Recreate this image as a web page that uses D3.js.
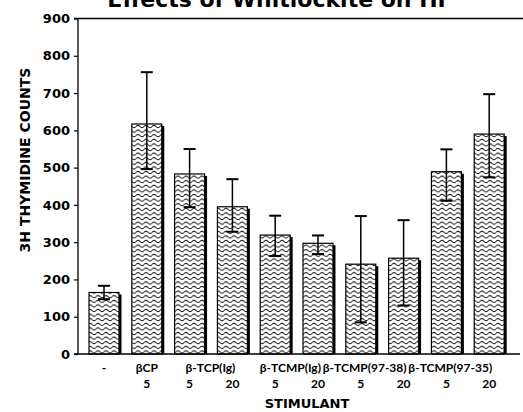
<!DOCTYPE html>
<html>
<head>
    <meta charset="utf-8" />
    <title>Effects of Whitlockite on HF</title>
    <script src="https://d3js.org/d3.v7.min.js"></script>
    <style>
        body { margin: 0; background: #fff; }
        svg { display: block; }
    </style>
</head>
<body>
    <div id="chart"></div>
    <script>
        // bar values
        const doses = ["", "5", "5", "20", "5", "20", "5", "20", "5", "20"];
        const means = [165, 617, 483, 395, 319, 297, 241, 257, 489, 590];
        const upper = [183, 756, 550, 469, 371, 318, 370, 359, 549, 697];
        const lower = [147, 496, 394, 328, 263, 268, 85, 130, 411, 474];

        // stimulant groups (first and last bar of each)
        const groupNames = ["-", "\u03b2CP", "\u03b2-TCP(Ig)", "\u03b2-TCMP(Ig)", "\u03b2-TCMP(97-38)", "\u03b2-TCMP(97-35)"];
        const groupFirst = [0, 1, 2, 4, 6, 8];
        const groupLast = [0, 1, 3, 5, 7, 9];

        const yTicks = [0, 100, 200, 300, 400, 500, 600, 700, 800, 900];

        const w = 523, h = 412;
        const font = "'DejaVu Sans', sans-serif";
        const narrow = "Lato, 'DejaVu Sans', sans-serif";

        const svg = d3.select('#chart').append('svg')
            .attr('width', w)
            .attr('height', h);

        // wavy fill like the original hatching
        const pat = svg.append('defs').append('pattern')
            .attr('id', 'wave')
            .attr('patternUnits', 'userSpaceOnUse')
            .attr('width', 8)
            .attr('height', 4.6);
        pat.append('rect').attr('width', 8).attr('height', 4.6).attr('fill', '#fff');
        pat.append('path')
            .attr('d', 'M0,2.3 Q2,0.2 4,2.3 T8,2.3')
            .attr('fill', 'none')
            .attr('stroke', '#111')
            .attr('stroke-width', 1);

        const idx = d3.range(means.length);

        const x = d3.scaleBand()
            .domain(idx)
            .range([82.6, 510.6])
            .paddingInner(0.3)
            .paddingOuter(0.15);

        const y = d3.scaleLinear()
            .domain([0, 900])
            .range([354, 18.5]);

        // title (cut off at the top edge as in the scan)
        svg.append('text')
            .attr('x', 280)
            .attr('y', 7)
            .attr('text-anchor', 'middle')
            .style('font', `bold 22px ${font}`)
            .text('Effects of Whitlockite on HF');

        // top frame line
        svg.append('line')
            .attr('x1', 78).attr('x2', 523)
            .attr('y1', y(900)).attr('y2', y(900))
            .attr('stroke', '#000').attr('stroke-width', 1.3);

        // bars: shadow first, then the hatched bar
        svg.selectAll('.shadow')
            .data(idx)
            .enter()
            .append('rect')
            .attr('class', 'shadow')
            .attr('x', d => x(d) + 2.5)
            .attr('y', d => y(means[d]) + 2)
            .attr('width', x.bandwidth())
            .attr('height', d => y(0) - y(means[d]) - 2)
            .attr('fill', '#000');

        svg.selectAll('.bar')
            .data(idx)
            .enter()
            .append('rect')
            .attr('class', 'bar')
            .attr('x', d => x(d))
            .attr('y', d => y(means[d]))
            .attr('width', x.bandwidth())
            .attr('height', d => y(0) - y(means[d]))
            .attr('fill', 'url(#wave)')
            .attr('stroke', '#000')
            .attr('stroke-width', 1.2);

        // error bars
        const err = svg.selectAll('.err')
            .data(idx)
            .enter()
            .append('g')
            .attr('class', 'err')
            .attr('stroke', '#000');

        err.append('line')
            .attr('x1', d => x(d) + x.bandwidth() / 2)
            .attr('x2', d => x(d) + x.bandwidth() / 2)
            .attr('y1', d => y(upper[d]))
            .attr('y2', d => y(lower[d]))
            .attr('stroke-width', 1.5);

        err.selectAll('.cap')
            .data(d => [[d, upper[d]], [d, lower[d]]])
            .enter()
            .append('line')
            .attr('x1', d => x(d[0]) + x.bandwidth() / 2 - 6)
            .attr('x2', d => x(d[0]) + x.bandwidth() / 2 + 6)
            .attr('y1', d => y(d[1]))
            .attr('y2', d => y(d[1]))
            .attr('stroke-width', 2);

        // y axis
        const yAxis = svg.append('g')
            .attr('transform', 'translate(78,0)')
            .call(d3.axisLeft(y).tickValues(yTicks).tickSize(4).tickPadding(4));
        yAxis.select('.domain').attr('stroke-width', 1.3).attr('d', `M-4,${y(900)}H0V${y(0)}`);
        yAxis.selectAll('.tick line').attr('stroke-width', 1.2);
        yAxis.selectAll('text')
            .style('font', `bold 13px ${font}`)
            .attr('fill', '#000');

        // x axis line
        svg.append('line')
            .attr('x1', 74).attr('x2', 520)
            .attr('y1', y(0)).attr('y2', y(0))
            .attr('stroke', '#000').attr('stroke-width', 1.6);

        // group names
        svg.selectAll('.group')
            .data(groupNames)
            .enter()
            .append('text')
            .attr('class', 'group')
            .attr('x', (d, i) => groupFirst[i] === groupLast[i]
                ? x(groupFirst[i]) + x.bandwidth() / 2
                : x(groupLast[i]) + x.bandwidth() / 2 + 3)
            .attr('y', 372)
            .attr('text-anchor', (d, i) => groupFirst[i] === groupLast[i] ? 'middle' : 'end')
            .style('font', `bold 12px ${narrow}`)
            .text(d => d);

        // dose numbers under each bar
        svg.selectAll('.dose')
            .data(idx)
            .enter()
            .append('text')
            .attr('class', 'dose')
            .attr('x', d => x(d) + x.bandwidth() / 2)
            .attr('y', 388)
            .attr('text-anchor', 'middle')
            .style('font', `bold 12px ${narrow}`)
            .text(d => doses[d]);

        // axis titles
        svg.append('text')
            .attr('x', 307)
            .attr('y', 408)
            .attr('text-anchor', 'middle')
            .style('font', `bold 13px ${font}`)
            .text('STIMULANT');

        svg.append('text')
            .attr('transform', 'translate(30,160) rotate(-90)')
            .attr('text-anchor', 'middle')
            .style('font', `bold 14px ${font}`)
            .text('3H THYMIDINE COUNTS');
    </script>
</body>
</html>
